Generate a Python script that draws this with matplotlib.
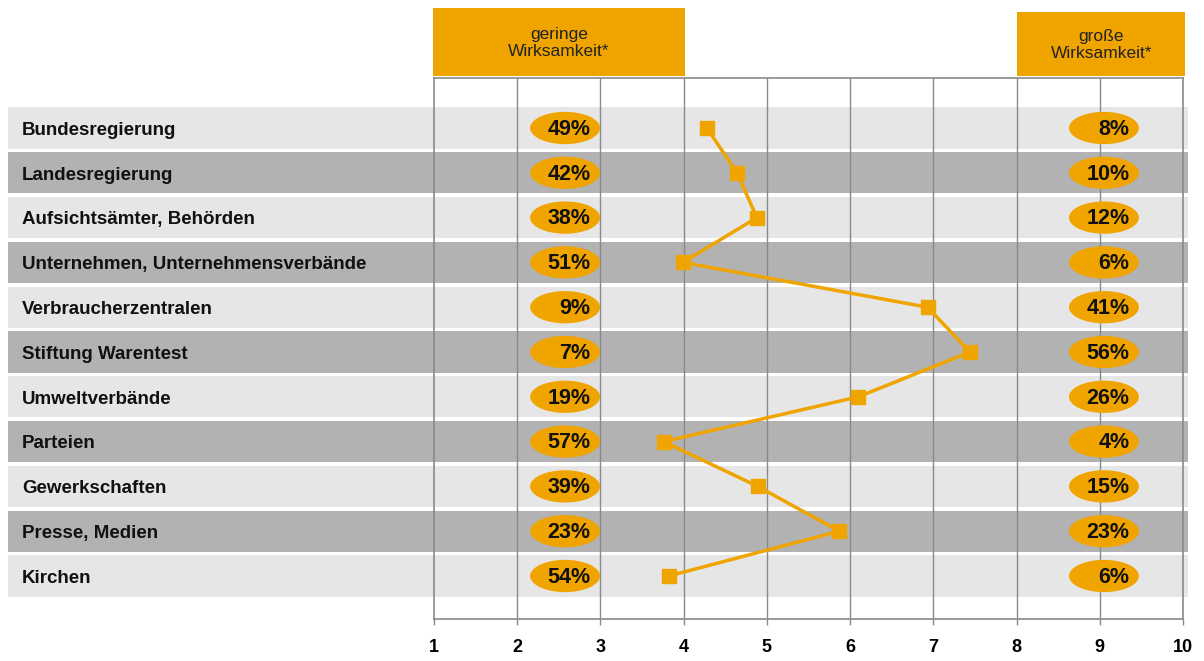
import matplotlib.pyplot as plt
from matplotlib.patches import Ellipse, Rectangle

# data
categories = ['Bundesregierung', 'Landesregierung', 'Aufsichtsämter, Behörden',
              'Unternehmen, Unternehmensverbände', 'Verbraucherzentralen',
              'Stiftung Warentest', 'Umweltverbände', 'Parteien',
              'Gewerkschaften', 'Presse, Medien', 'Kirchen']
mean_score = [4.28, 4.64, 4.88, 3.99, 6.93, 7.44, 6.10, 3.76, 4.89, 5.87, 3.82]
low_effect = [49, 42, 38, 51, 9, 7, 19, 57, 39, 23, 54]
high_effect = [8, 10, 12, 6, 41, 56, 26, 4, 15, 23, 6]
ticks = list(range(1, 11))

orange = '#F0A400'
light = '#E6E6E6'
dark = '#B2B2B2'

plt.rcParams['font.family'] = ['Liberation Sans', 'DejaVu Sans']

fig = plt.figure(figsize=(12.04, 6.61), dpi=100)
ax = fig.add_axes([434 / 1204, 1 - 619 / 661, 749 / 1204, 541 / 661])
ax.set_xlim(1, 10)
ax.set_ylim(10.96, -1.116)

rows = list(range(len(categories)))

# alternating row bands, reaching out to the label column
for i in rows:
    ax.axhspan(i - 0.46, i + 0.46, xmin=-0.569, xmax=1.007,
               color=light if i % 2 == 0 else dark, zorder=0, clip_on=False, lw=0)
    ax.text(-3.95, i + 0.05, categories[i], fontsize=13.5, fontweight='bold',
            va='center', ha='left', color='#111111')

# vertical grid
for t in ticks[1:-1]:
    ax.axvline(t, color='#8a8a8a', lw=1, zorder=1)

for s in ['left', 'right', 'top', 'bottom']:
    ax.spines[s].set_color('#8a8a8a')
    ax.spines[s].set_linewidth(1.2)
ax.spines['bottom'].set_zorder(1)

# ellipses with percentages
for i in rows:
    ax.add_patch(Ellipse((2.575, i), 0.84, 0.72, color=orange, zorder=3, lw=0))
    ax.add_patch(Ellipse((9.05, i), 0.84, 0.72, color=orange, zorder=3, lw=0))
    ax.text(2.88, i + 0.03, f'{low_effect[i]}%', fontsize=15.5, fontweight='bold',
            ha='right', va='center', color='#111111', zorder=4)
    ax.text(9.36, i + 0.03, f'{high_effect[i]}%', fontsize=15.5, fontweight='bold',
            ha='right', va='center', color='#111111', zorder=4)

# mean line
ax.plot(mean_score, rows, color=orange, lw=2.5, marker='s', markersize=10, zorder=5)

# header boxes
ax.add_patch(Rectangle((0.988, -2.68), 3.03, 1.52, color=orange, clip_on=False, zorder=2, lw=0))
ax.add_patch(Rectangle((8.0, -2.59), 2.03, 1.43, color=orange, clip_on=False, zorder=2, lw=0))
ax.text(2.5, -1.9, 'geringe\nWirksamkeit*', fontsize=12.5, ha='center', va='center',
        color='#222222', linespacing=1.2)
ax.text(9.02, -1.85, 'große\nWirksamkeit*', fontsize=12.5, ha='center', va='center',
        color='#222222', linespacing=1.2)

ax.set_xticks(ticks)
ax.set_xticklabels([str(t) for t in ticks], fontsize=13, fontweight='bold')
ax.tick_params(axis='x', direction='out', length=4.3, width=1, color='#8a8a8a', pad=10)
ax.set_yticks([])

fig.savefig('out.png', dpi=100)
